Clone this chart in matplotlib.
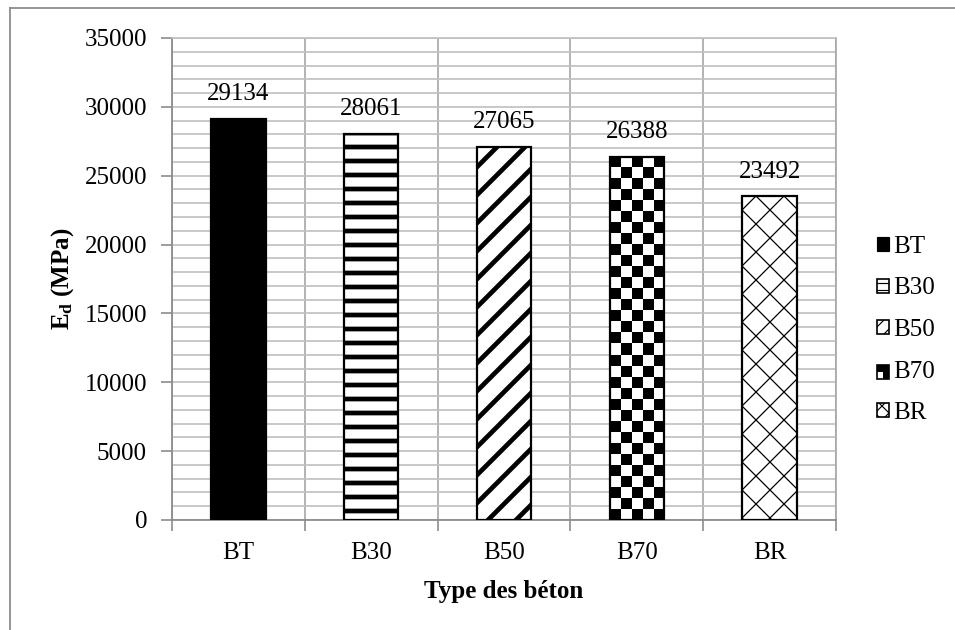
import numpy as np
import matplotlib
matplotlib.use("Agg")
import matplotlib.pyplot as plt
from matplotlib.lines import Line2D
from matplotlib.patches import Patch, Rectangle
from matplotlib.legend_handler import HandlerBase
from matplotlib.ticker import MultipleLocator

categories = ["BT", "B30", "B50", "B70", "BR"]
values = [29134, 28061, 27065, 26388, 23492]
hatches = [None, "-", "/", "checker", "x"]

plt.rcParams["font.family"] = ["Liberation Serif", "DejaVu Serif"]
plt.rcParams["mathtext.fontset"] = "custom"
plt.rcParams["mathtext.rm"] = "Liberation Serif:bold"
plt.rcParams["mathtext.it"] = "Liberation Serif:bold"
plt.rcParams["mathtext.bf"] = "Liberation Serif:bold"

# dpi 84 makes the hatch spacing ~14 px like the original; sizes in points are scaled back
DPI = 84
S = 100 / DPI
FS = 18 * S
GRID = "#bfbfbf"
AXIS = "#8c8c8c"


class CheckerHandler(HandlerBase):
    def create_artists(self, legend, orig_handle, xd, yd, width, height, fontsize, trans):
        artists = [Rectangle((xd, yd), width, height, facecolor="white",
                             edgecolor="black", lw=1.2 * S, transform=trans)]
        artists.append(Rectangle((xd, yd + height / 2), width, height / 2,
                                 facecolor="black", lw=0, transform=trans))
        artists.append(Rectangle((xd + width / 2, yd), width / 2, height / 2,
                                 facecolor="black", lw=0, transform=trans))
        return artists


fig = plt.figure(figsize=(955 / DPI, 630 / DPI), dpi=DPI)
ax = fig.add_axes([172 / 955, 1 - 520 / 630, 664 / 955, 482 / 630])

x = np.arange(len(categories))
bars = ax.bar(x, values, width=0.41, color="white", edgecolor="black", linewidth=1.6 * S, zorder=3)

for bar, h in zip(bars, hatches):
    if h is None:
        bar.set_facecolor("black")
    elif h == "checker":
        bar.set_facecolor("none")
    else:
        bar.set_hatch(h)
        lw = 0.9 if h == "x" else 3.4
        if hasattr(bar, "set_hatch_linewidth"):
            bar.set_hatch_linewidth(lw * S)

ax.set_xlim(-0.5, len(categories) - 0.5)
ax.set_ylim(0, 35000)

# checkerboard fill for B70, clipped to its bar
fig.canvas.draw()
cb = bars[hatches.index("checker")]
bx, bw, bh = cb.get_x(), cb.get_width(), cb.get_height()
p0 = ax.transData.transform((bx, 0))
p1 = ax.transData.transform((bx + bw, bh))
ncol = 5
nrow = int(round((p1[1] - p0[1]) / ((p1[0] - p0[0]) / ncol)))
checker = (np.add.outer(np.arange(nrow), np.arange(ncol)) % 2).astype(float)
im = ax.imshow(checker, extent=(bx, bx + bw, 0, bh), cmap="gray", aspect="auto",
               interpolation="nearest", zorder=2.9, origin="upper")
im.set_clip_path(cb)
ax.set_xlim(-0.5, len(categories) - 0.5)
ax.set_ylim(0, 35000)

for bar, v in zip(bars, values):
    ax.annotate(str(v), (bar.get_x() + bar.get_width() / 2, v), xytext=(0, 10 * S),
                textcoords="offset points", ha="center", va="bottom", fontsize=FS)

ax.set_xticks(x)
ax.set_xticklabels(categories, fontsize=FS)
ax.set_xticks(np.arange(-0.5, len(categories)), minor=True)
ax.yaxis.set_major_locator(MultipleLocator(5000))
ax.yaxis.set_minor_locator(MultipleLocator(1000))
ax.tick_params(axis="x", which="major", length=0, pad=16 * S)
ax.tick_params(axis="x", which="minor", length=8 * S, color=AXIS, width=1.2 * S)
ax.tick_params(axis="y", which="major", length=8 * S, color=AXIS, width=1.2 * S,
               pad=10 * S, labelsize=FS)
ax.tick_params(axis="y", which="minor", length=0)

ax.grid(axis="y", which="both", color=GRID, linewidth=1.2 * S, zorder=0)
ax.grid(axis="x", which="minor", color="#a6a6a6", linewidth=1.2 * S, zorder=0)
ax.set_axisbelow(True)
for side in ["left", "bottom"]:
    ax.spines[side].set_color(AXIS)
    ax.spines[side].set_linewidth(1.3 * S)
ax.spines["top"].set_color(GRID)
ax.spines["right"].set_color("#a6a6a6")
ax.spines["top"].set_linewidth(1.2 * S)
ax.spines["right"].set_linewidth(1.2 * S)

ax.set_ylabel(r"$\mathrm{E_d}$ (MPa)", fontsize=FS, fontweight="bold")
ax.yaxis.set_label_coords(-0.145, 0.5)
ax.set_xlabel("Type des béton", fontsize=FS, fontweight="bold")
ax.xaxis.set_label_coords(0.5, -0.124)

handles = []
for bar, h in zip(bars, hatches):
    if h == "checker":
        handles.append(Patch(facecolor="white", edgecolor="black"))
    elif h is None:
        handles.append(Patch(facecolor="black", edgecolor="black"))
    else:
        handles.append(Patch(facecolor="white", edgecolor="black", hatch=h * 2, lw=1.2 * S))
checker_handle = handles[hatches.index("checker")]
fig.legend(handles, categories, loc="center left", bbox_to_anchor=(864 / 955, 1 - 330 / 630),
           frameon=False, fontsize=FS, handlelength=0.5, handleheight=0.5,
           handletextpad=0.15, labelspacing=0.78, borderpad=0,
           handler_map={checker_handle: CheckerHandler()})

# thin gray frame of the original image
fig.add_artist(Line2D([9.5 / 955, 1], [1 - 7.5 / 630, 1 - 7.5 / 630], color="#8c8c8c", lw=1.3 * S))
fig.add_artist(Line2D([9.5 / 955, 9.5 / 955], [0, 1 - 7.5 / 630], color="#8c8c8c", lw=1.3 * S))

fig.savefig("out.png", dpi=DPI)
